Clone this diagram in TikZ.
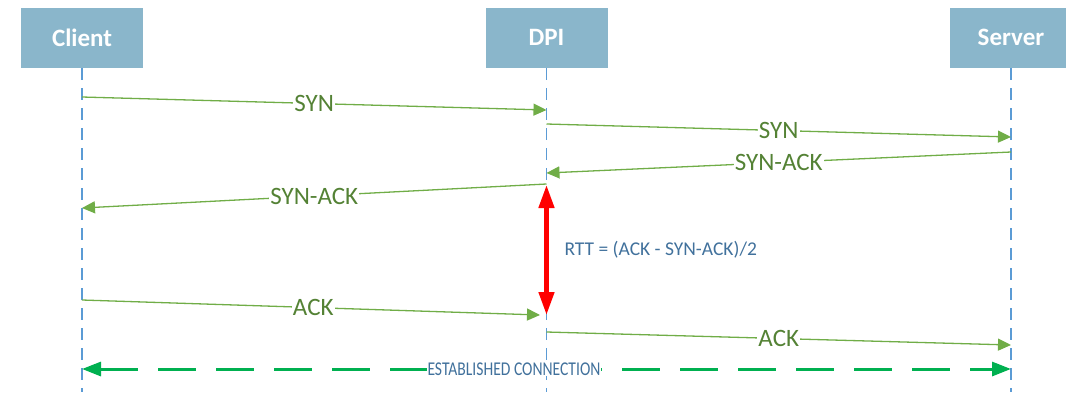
\documentclass[tikz,border=0pt]{standalone}
\usepackage{fontspec}
\setmainfont{Carlito}
\usetikzlibrary{arrows.meta}
\definecolor{boxblue}{HTML}{8AB6CB}
\definecolor{lifeblue}{HTML}{5B9BD5}
\definecolor{msggreen}{HTML}{70AD47}
\definecolor{labgreen}{HTML}{548235}
\definecolor{estgreen}{HTML}{00B050}
\definecolor{txtblue}{HTML}{41719C}
\tikzset{
  actor/.style={fill=boxblue, draw=white, line width=0.5pt, minimum width=123pt, minimum height=61pt, inner sep=0pt,
    text=white, font=\fontsize{25}{28}\selectfont\bfseries},
  lifeline/.style={draw=lifeblue, line width=1.1pt, dash pattern=on 12pt off 8pt},
  msg/.style={draw=msggreen, line width=1.3pt, -{Triangle[length=13pt,width=12pt]}},
  msglabel/.style={fill=white, inner sep=1pt, text=labgreen, font=\fontsize{25}{28}\selectfont},
  rtt/.style={draw=red, line width=4.5pt, {Triangle[length=23pt,width=15pt]}-{Triangle[length=23pt,width=15pt]}, shorten <=0pt},
  est/.style={draw=estgreen, line width=3pt, dash pattern=on 38pt off 20pt, {Triangle[length=19pt,width=14pt]}-{Triangle[length=19pt,width=14pt]}},
  note/.style={text=txtblue, font=\fontsize{19.5}{22}\selectfont},
}
\begin{document}
\begin{tikzpicture}[x=1pt,y=-1pt]
\useasboundingbox (0,0) rectangle (1066,392);
\clip (0,0) rectangle (1066,392);
% actors
\node[actor] (client) at (82,37.5) {Client};
\node[actor] (dpi) at (546.5,37.5) {DPI};
\node[actor] (server) at (1011,37.5) {Server};
% lifeline ends
\coordinate (cb) at (82,392);
\coordinate (db) at (546.5,392);
\coordinate (sb) at (1011,392);
\draw[lifeline] (client.south) -- (cb);
\draw[lifeline] (dpi.south) -- (db);
\draw[lifeline] (server.south) -- (sb);
% message endpoints
\coordinate (c1) at (82,97);    \coordinate (d1) at (546.5,110);
\coordinate (d2) at (546.5,124); \coordinate (s2) at (1011,137);
\coordinate (s3) at (1011,152); \coordinate (d3) at (546.5,173);
\coordinate (d4) at (546.5,184); \coordinate (c4) at (82,208);
\coordinate (r1) at (546.5,185); \coordinate (r2) at (546.5,315);
\coordinate (c6) at (82,300);   \coordinate (d6) at (540,315);
\coordinate (d7) at (546.5,332); \coordinate (s7) at (1011,345);
\coordinate (ce) at (82,369);   \coordinate (se) at (1011,369);
% messages
\draw[msg] (c1) -- node[msglabel, pos=0.5] {SYN} (d1);
\draw[msg] (d2) -- node[msglabel, pos=0.5] {SYN} (s2);
\draw[msg] (s3) -- node[msglabel, pos=0.5] {SYN-ACK} (d3);
\draw[msg] (d4) -- node[msglabel, pos=0.5] {SYN-ACK} (c4);
\draw[msg] (c6) -- node[msglabel, pos=0.505] {ACK} (d6);
\draw[msg] (d7) -- node[msglabel, pos=0.5] {ACK} (s7);
% RTT
\draw[rtt] (r1) -- (r2);
\node[note, anchor=west] (rttl) at (561,250) {RTT = (ACK - SYN-ACK)/2};
% established
\draw[est] (ce) -- node[fill=white, inner sep=1pt, text=txtblue, font=\fontsize{19.5}{22}\selectfont, pos=0.465] {\scalebox{0.8}[1]{ESTABLISHED CONNECTION}} (se);
\end{tikzpicture}
\end{document}
